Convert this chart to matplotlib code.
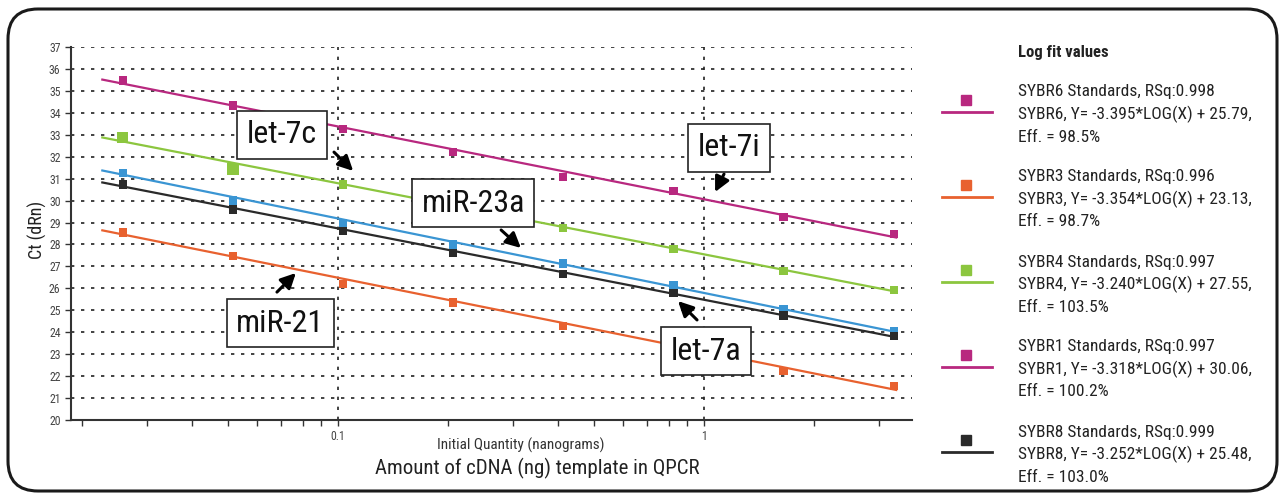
#!/usr/bin/env python3
"""Standard curves (Ct vs log input) for five miRNA SYBR assays."""

import numpy as np
import matplotlib

matplotlib.use("Agg")
import matplotlib.pyplot as plt  # noqa: E402
from matplotlib import font_manager  # noqa: E402
from matplotlib.lines import Line2D  # noqa: E402
from matplotlib.patches import FancyBboxPatch  # noqa: E402

# ---- data -------------------------------------------------------------
QUANTITY = [0.0258, 0.0516, 0.103, 0.206, 0.4125, 0.825, 1.65, 3.3]

CT_SYBR1 = [35.47, 34.33, 33.25, 32.20, 31.06, 30.45, 29.25, 28.48]  # let-7i
CT_SYBR4 = [32.87, 31.45, 30.74, 29.80, 28.74, 27.78, 26.79, 25.92]  # let-7c
CT_SYBR6 = [31.27, 30.01, 28.96, 28.00, 27.14, 26.15, 25.07, 24.07]  # miR-23a
CT_SYBR8 = [30.74, 29.60, 28.61, 27.60, 26.65, 25.80, 24.77, 23.83]  # let-7a
CT_SYBR3 = [28.55, 27.47, 26.20, 25.36, 24.27, 23.35, 22.23, 21.55]  # miR-21

FIT_RANGE = [0.0227, 3.35]

LEGEND_NAMES = ["SYBR6", "SYBR3", "SYBR4", "SYBR1", "SYBR8"]
LEGEND_RSQ = ["0.998", "0.996", "0.997", "0.997", "0.999"]
LEGEND_SLOPE = [-3.395, -3.354, -3.240, -3.318, -3.252]
LEGEND_INTERCEPT = [25.79, 23.13, 27.55, 30.06, 25.48]
LEGEND_EFF = ["98.5%", "98.7%", "103.5%", "100.2%", "103.0%"]

LABELS = ["let-7c", "miR-23a", "let-7i", "let-7a", "miR-21"]
LABEL_POS = [(0.0703, 32.99), (0.234, 29.89), (1.17, 32.40), (1.013, 23.14), (0.0695, 24.42)]
ARROW_TAIL = [(0.0975, 32.21), (0.279, 28.66), (1.134, 31.21), (0.957, 24.56), (0.0681, 25.83)]
ARROW_HEAD = [(0.110, 31.35), (0.316, 27.84), (1.072, 30.39), (0.849, 25.42), (0.0767, 26.70)]

MAGENTA = "#b8287f"
ORANGE = "#e8612f"
GREEN = "#8cc63f"
BLUE = "#3a95d3"
BLACK = "#2a2a2a"

# series drawn in the plot: (ct values, colour, fit name)
SERIES = [
    (CT_SYBR1, MAGENTA, "SYBR1"),
    (CT_SYBR4, GREEN, "SYBR4"),
    (CT_SYBR6, BLUE, "SYBR6"),
    (CT_SYBR8, BLACK, "SYBR8"),
    (CT_SYBR3, ORANGE, "SYBR3"),
]
LEGEND_COLORS = [MAGENTA, ORANGE, GREEN, MAGENTA, BLACK]

available = {f.name for f in font_manager.fontManager.ttflist}
FONT = next(
    (name for name in ("Liberation Sans Narrow", "Roboto Condensed",
                       "Open Sans Condensed", "Liberation Sans")
     if name in available),
    "DejaVu Sans",
)
plt.rcParams["font.family"] = [FONT, "DejaVu Sans"]

fig = plt.figure(figsize=(12.8, 5), dpi=100)
ax = fig.add_axes([71 / 1280, 80 / 500, (912 - 71) / 1280, (420 - 47) / 500])

fits = dict(zip(LEGEND_NAMES, zip(LEGEND_SLOPE, LEGEND_INTERCEPT)))
xfit = np.array(FIT_RANGE)
for ct, color, name in SERIES:
    slope, intercept = fits[name]
    ax.plot(xfit, slope * np.log10(xfit) + intercept, color=color, lw=1.6, zorder=3)
    sizes = np.full(len(QUANTITY), 36.0)
    if color == GREEN:
        sizes[:2] = 70.0
    ax.scatter(QUANTITY, ct, s=sizes, marker="s", color=color, linewidths=0, zorder=4)

ax.set_xscale("log")
ax.set_xlim(0.01864, 3.70)
ax.set_ylim(20, 37)
ax.set_yticks(range(20, 38))
ax.set_xticks([0.1, 1])
ax.set_xticklabels(["0.1", "1"])
ax.tick_params(axis="both", which="major", labelsize=8.5, labelcolor="#444444",
               color="#333333", length=4, width=1)
ax.tick_params(axis="x", which="minor", length=4, width=1, color="#333333")
ax.xaxis.set_minor_formatter(matplotlib.ticker.NullFormatter())
for side in ("top", "right"):
    ax.spines[side].set_visible(False)
for side in ("left", "bottom"):
    ax.spines[side].set_linewidth(1.5)
    ax.spines[side].set_color("#333333")

ax.grid(True, axis="y", color="#222222", linestyle=(0, (2, 4)), linewidth=1.2)
ax.grid(True, axis="x", which="major", color="#222222", linestyle=(0, (2, 4)),
        linewidth=1.2)
ax.set_ylabel("Ct (dRn)", fontsize=13, color="#222222")
ax.yaxis.set_label_coords(-0.029, 0.51)

for text, pos, tail, head in zip(LABELS, LABEL_POS, ARROW_TAIL, ARROW_HEAD):
    ax.annotate("", xy=head, xytext=tail, zorder=6,
                arrowprops=dict(arrowstyle="-|>,head_length=0.9,head_width=0.45",
                                color="black", lw=2.2, shrinkA=0, shrinkB=0))
    ax.text(pos[0], pos[1], text, fontsize=23, ha="center", va="center", zorder=7,
            color="#111111",
            bbox=dict(boxstyle="square,pad=0.3", fc="white", ec="#222222", lw=1.2))

fig.text(521 / 1280, 1 - 445 / 500, "Initial Quantity (nanograms)", fontsize=11,
         color="#333333", ha="center", va="center")
fig.text(537 / 1280, 1 - 468 / 500, "Amount of cDNA (ng) template in QPCR",
         fontsize=15, color="#222222", ha="center", va="center")

# legend panel
fig.text(1018 / 1280, 1 - 53 / 500, "Log fit values", fontsize=12,
         fontweight="bold", color="#222222", va="center")
for i, name in enumerate(LEGEND_NAMES):
    top = 92 + 85 * i
    color = LEGEND_COLORS[i]
    fig.add_artist(Line2D([942 / 1280, 992 / 1280], [1 - (top + 20) / 500] * 2,
                          color=color, lw=2, transform=fig.transFigure))
    fig.add_artist(Line2D([966 / 1280], [1 - (top + 8) / 500], marker="s",
                          markersize=7.5, color=color, lw=0,
                          transform=fig.transFigure))
    lines = [
        f"{name} Standards, RSq:{LEGEND_RSQ[i]}",
        f"{name}, Y= {LEGEND_SLOPE[i]:.3f}*LOG(X) + {LEGEND_INTERCEPT[i]:.2f},",
        f"Eff. = {LEGEND_EFF[i]}",
    ]
    for j, line in enumerate(lines):
        fig.text(1018 / 1280, 1 - (top + 22.5 * j) / 500, line, fontsize=12.5,
                 color="#222222", va="center")

frame = FancyBboxPatch((0.08, 0.09), 12.69, 4.82,
                       boxstyle="round,pad=0,rounding_size=0.3",
                       transform=fig.dpi_scale_trans, fc="none", ec="#1a1a1a",
                       lw=2.2)
fig.add_artist(frame)

fig.savefig("out.png", dpi=100)
